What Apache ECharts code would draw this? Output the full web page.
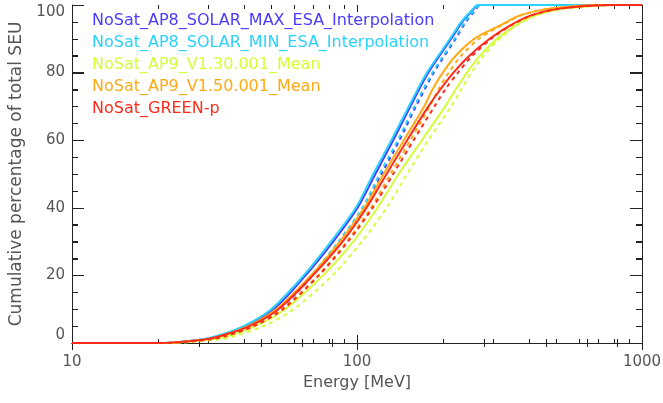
<!DOCTYPE html>
<html>
<head>
<meta charset="utf-8">
<script src="https://cdn.jsdelivr.net/npm/echarts@6/dist/echarts.min.js"></script>
<style>
html,body{margin:0;padding:0;background:#fff;}
#c{width:663px;height:403px;}
</style>
</head>
<body>
<div id="c"></div>
<script>
// ---- data ----
const NAMES = [
  'NoSat_AP8_SOLAR_MAX_ESA_Interpolation',
  'NoSat_AP8_SOLAR_MIN_ESA_Interpolation',
  'NoSat_AP9_V1.30.001_Mean',
  'NoSat_AP9_V1.50.001_Mean',
  'NoSat_GREEN-p'
];
const COLORS = ['#4a3cff', '#2ad2ff', '#d2ff3a', '#ffaa14', '#ff2a1a'];

// cumulative-percentage levels at which energies (MeV) were read
const LEVELS_AP8 = [0, 0, 1, 2, 5, 10, 20, 30, 40, 50, 60, 70, 80, 90, 95, 98, 100, 100];
const LEVELS_AP9 = [0, 0, 1, 2, 5, 10, 20, 30, 40, 50, 60, 70, 75, 80, 85, 90, 94, 97, 99, 100, 100];

const AP8MAX_SOLID  = [10, 21, 28.5, 32.5, 40.5, 51, 66, 82.5, 100.5, 116, 134, 154, 178, 214, 234, 252, 267, 1000];
const AP8MAX_DASHED = [10, 22, 29.5, 34, 42.5, 53.5, 70, 87, 106, 122, 141, 161, 186, 222, 241, 258, 272, 1000];
const AP8MIN_SOLID  = [10, 21, 28, 32, 40, 50, 65, 81, 99, 114, 132, 152, 176, 212, 232, 250, 266, 1000];
const AP8MIN_DASHED = [10, 22, 29, 33.5, 42, 53, 69, 86, 104.5, 120, 139, 159, 184, 220, 239, 256, 271, 1000];

const AP9V130_SOLID  = [10, 21, 30, 35, 44, 56, 76, 97, 118, 140, 169, 204, 222, 243, 270, 310, 360, 425, 540, 850, 1000];
const AP9V130_DASHED = [10, 22, 32, 37, 47, 60, 82, 104, 127, 150, 178, 214, 232, 252, 278, 316, 364, 428, 540, 850, 1000];
const AP9V150_SOLID  = [10, 21, 29, 33, 41.5, 52, 69, 87, 106, 124, 146, 172, 184, 200, 222, 258, 318, 375, 480, 750, 1000];
const AP9V150_DASHED = [10, 21, 30, 34, 43, 54.5, 73, 92, 112, 131, 154, 180, 193, 210, 232, 268, 322, 378, 480, 750, 1000];
const GREEN_SOLID    = [10, 20, 29, 33, 42, 53, 70, 89, 108, 127, 150, 178, 196, 218, 248, 292, 345, 410, 520, 800, 1000];
const GREEN_DASHED   = [10, 21, 30, 34.5, 43.5, 55, 73.5, 93, 113.5, 134, 158, 187, 204, 226, 254, 296, 348, 412, 520, 800, 1000];

const X_MIN = 10, X_MAX = 1000;
const Y_MIN = 0, Y_MAX = 100, Y_STEP = 20;
const X_MAJOR_TICKS = [10, 100, 1000];
const X_MINOR_TICKS = [20, 30, 40, 50, 60, 70, 80, 90, 200, 300, 400, 500, 600, 700, 800, 900];
const Y_MAJOR_TICKS = [0, 20, 40, 60, 80, 100];
const Y_MINOR_TICKS = [5, 10, 15, 25, 30, 35, 45, 50, 55, 65, 70, 75, 85, 90, 95];

// ---- build ----
const FONT = 'DejaVu Sans';
const AXIS_COLOR = '#222';
const TEXT_COLOR = '#555';

function pairs(energies, levels) { return energies.map((e, i) => [e, levels[i]]); }

const curves = [
  { name: NAMES[0], color: COLORS[0], e: AP8MAX_SOLID,  l: LEVELS_AP8, dashed: false },
  { name: NAMES[0], color: COLORS[0], e: AP8MAX_DASHED, l: LEVELS_AP8, dashed: true },
  { name: NAMES[1], color: COLORS[1], e: AP8MIN_SOLID,  l: LEVELS_AP8, dashed: false },
  { name: NAMES[1], color: COLORS[1], e: AP8MIN_DASHED, l: LEVELS_AP8, dashed: true },
  { name: NAMES[2], color: COLORS[2], e: AP9V130_SOLID,  l: LEVELS_AP9, dashed: false },
  { name: NAMES[2], color: COLORS[2], e: AP9V130_DASHED, l: LEVELS_AP9, dashed: true },
  { name: NAMES[3], color: COLORS[3], e: AP9V150_SOLID,  l: LEVELS_AP9, dashed: false },
  { name: NAMES[3], color: COLORS[3], e: AP9V150_DASHED, l: LEVELS_AP9, dashed: true },
  { name: NAMES[4], color: COLORS[4], e: GREEN_SOLID,  l: LEVELS_AP9, dashed: false },
  { name: NAMES[4], color: COLORS[4], e: GREEN_DASHED, l: LEVELS_AP9, dashed: true }
];

const series = curves.map(c => ({
  type: 'line',
  name: c.name,
  data: pairs(c.e, c.l),
  showSymbol: false,
  smooth: 0.3,
  color: c.color,
  lineStyle: { color: c.color, width: 2, type: c.dashed ? [4, 4] : 'solid' }
}));

function axisLine() { return { show: true, lineStyle: { color: AXIS_COLOR, width: 1 } }; }
function tick(len) { return { show: true, inside: true, length: len, lineStyle: { color: AXIS_COLOR, width: 1 } }; }

const option = {
  backgroundColor: '#fff',
  animation: false,
  textStyle: { fontFamily: FONT },
  grid: { left: 72, right: 21, top: 5, bottom: 60, outerBoundsMode: 'none' },
  legend: {
    data: NAMES.map((n, i) => ({ name: n, textStyle: { color: COLORS[i] } })),
    orient: 'vertical',
    left: 87,
    top: 13,
    padding: 0,
    itemGap: 6,
    itemWidth: 0,
    itemHeight: 16,
    icon: 'rect',
    selectedMode: false,
    itemStyle: { opacity: 0 },
    lineStyle: { opacity: 0 },
    textStyle: { fontFamily: FONT, fontSize: 16, lineHeight: 16 }
  },
  xAxis: [
    {
      type: 'log', logBase: 10, min: X_MIN, max: X_MAX,
      position: 'bottom',
      name: 'Energy [MeV]', nameLocation: 'middle', nameGap: 31,
      nameTextStyle: { fontFamily: FONT, fontSize: 16, color: TEXT_COLOR },
      axisLine: axisLine(),
      axisTick: tick(8),
      minorTick: { show: true, length: 4, lineStyle: { color: AXIS_COLOR, width: 1 } },
      axisLabel: { show: true, margin: 12, fontFamily: FONT, fontSize: 15, color: TEXT_COLOR, formatter: v => String(v) },
      splitLine: { show: false }
    },
    {
      type: 'log', logBase: 10, min: X_MIN, max: X_MAX,
      position: 'top',
      axisLine: axisLine(),
      axisTick: tick(7),
      minorTick: { show: true, length: 4, lineStyle: { color: AXIS_COLOR, width: 1 } },
      axisLabel: { show: false },
      splitLine: { show: false }
    }
  ],
  yAxis: [
    {
      type: 'value', min: Y_MIN, max: Y_MAX, interval: Y_STEP,
      position: 'left',
      name: 'Cumulative percentage of total SEU', nameLocation: 'middle', nameGap: 46,
      nameTextStyle: { fontFamily: FONT, fontSize: 17, color: TEXT_COLOR },
      axisLine: axisLine(),
      axisTick: tick(12),
      minorTick: { show: true, splitNumber: 4, length: 6, lineStyle: { color: AXIS_COLOR, width: 1 } },
      axisLabel: {
        show: true, margin: 7, fontFamily: FONT, fontSize: 15, color: TEXT_COLOR,
        verticalAlignMinLabel: 'bottom', verticalAlignMaxLabel: 'top'
      },
      splitLine: { show: false }
    },
    {
      type: 'value', min: Y_MIN, max: Y_MAX, interval: Y_STEP,
      position: 'right',
      axisLine: axisLine(),
      axisTick: tick(12),
      minorTick: { show: true, splitNumber: 4, length: 6, lineStyle: { color: AXIS_COLOR, width: 1 } },
      axisLabel: { show: false },
      splitLine: { show: false }
    }
  ],
  series: series
};

const chart = echarts.init(document.getElementById('c'), null, { renderer: 'canvas' });
try { chart.setOption(option); } catch (e) { /* keep going */ }

// ---- inward tick marks placed through the axes' own scales ----
try {
  const xPix = v => chart.convertToPixel({ xAxisIndex: 0 }, v);
  const yPix = v => chart.convertToPixel({ yAxisIndex: 0 }, v);
  const gx0 = xPix(X_MIN), gx1 = xPix(X_MAX);
  const gy0 = yPix(Y_MIN), gy1 = yPix(Y_MAX);
  const crisp = p => Math.round(p) + 0.5;
  const els = [];
  const seg = (x1, y1, x2, y2) => els.push({ type: 'line', shape: { x1: x1, y1: y1, x2: x2, y2: y2 }, style: { stroke: AXIS_COLOR, lineWidth: 1 } });
  const addX = (v, lb, lt) => { const x = crisp(xPix(v)); seg(x, gy0, x, gy0 - lb); seg(x, gy1, x, gy1 + lt); };
  const addY = (v, len) => { const y = crisp(yPix(v)); seg(gx0, y, gx0 + len, y); seg(gx1, y, gx1 - len, y); };
  X_MAJOR_TICKS.forEach(v => addX(v, 8, 7));
  X_MINOR_TICKS.forEach(v => addX(v, 4, 4));
  Y_MAJOR_TICKS.forEach(v => addY(v, 12));
  Y_MINOR_TICKS.forEach(v => addY(v, 6));
  chart.setOption({ graphic: els });
} catch (e) { /* ticks optional */ }
</script>
</body>
</html>
